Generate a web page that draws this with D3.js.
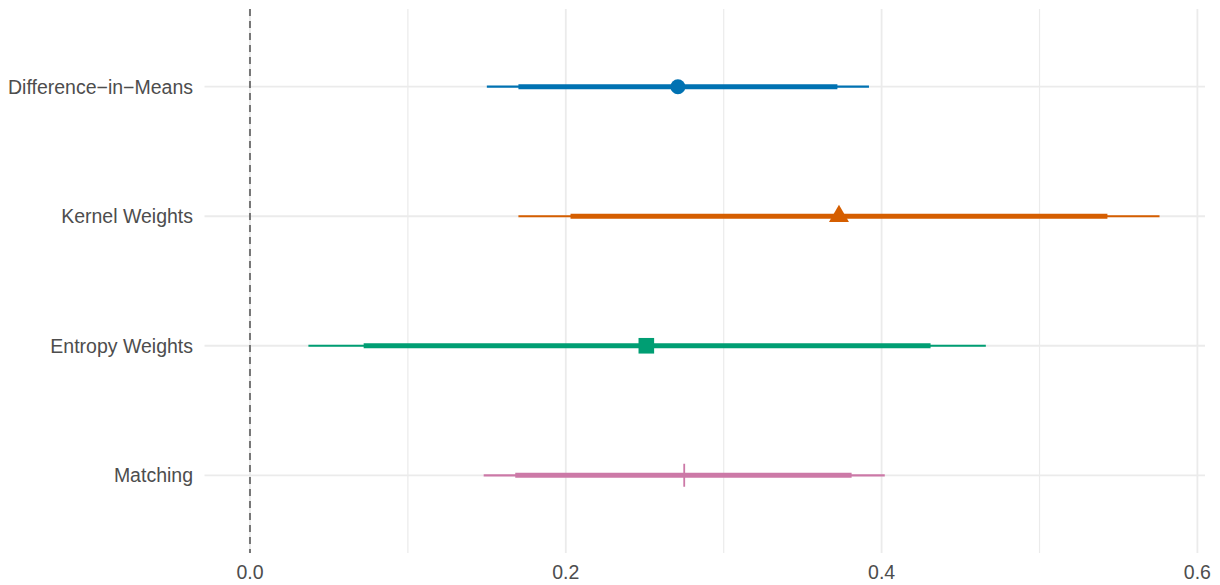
<!DOCTYPE html>
<html>
<head>
<meta charset="utf-8">
<script src="https://cdn.jsdelivr.net/npm/d3@7"></script>
<style>
  html, body { margin: 0; padding: 0; background: #ffffff; }
  svg { display: block; }
  text { font-family: "Liberation Sans", Arial, Helvetica, sans-serif; }
</style>
</head>
<body>
<script>
// Estimators and their point estimates with 90% (thick) and 95% (thin) intervals
const methods   = ["Difference\u2212in\u2212Means", "Kernel Weights", "Entropy Weights", "Matching"];
const estimate  = [0.271, 0.373, 0.251, 0.275];
const lo90      = [0.170, 0.203, 0.072, 0.168];
const hi90      = [0.372, 0.543, 0.431, 0.381];
const lo95      = [0.150, 0.170, 0.037, 0.148];
const hi95      = [0.392, 0.576, 0.466, 0.402];
const colors    = ["#0072B2", "#D55E00", "#009E73", "#CC79A7"];
const shapes    = ["circle", "triangle", "square", "plus"];
const xTicks    = [0.0, 0.2, 0.4, 0.6];
const xMinor    = [0.1, 0.3, 0.5];

const W = 1220, H = 585;
const panel = { left: 204.5, right: 1205, top: 9, bottom: 553 };

const rows = methods.map((m, i) => ({
  method: m, est: estimate[i], lo90: lo90[i], hi90: hi90[i],
  lo95: lo95[i], hi95: hi95[i], color: colors[i], shape: shapes[i]
}));

// x domain: data range (including the reference line at 0) expanded by 5%
const xmin = Math.min(0, d3.min(lo95)), xmax = d3.max(hi95);
const pad = (xmax - xmin) * 0.05;
const x = d3.scaleLinear().domain([xmin - pad, xmax + pad]).range([panel.left, panel.right]);
const y = d3.scalePoint().domain(methods).range([panel.top, panel.bottom]).padding(0.6);

const svg = d3.select("body").append("svg").attr("width", W).attr("height", H);

// grid
const grid = svg.append("g");
grid.selectAll(".minor").data(xMinor).join("line")
  .attr("x1", d => x(d)).attr("x2", d => x(d))
  .attr("y1", panel.top).attr("y2", panel.bottom)
  .attr("stroke", "#EBEBEB").attr("stroke-width", 1.2);
grid.selectAll(".majx").data(xTicks).join("line")
  .attr("x1", d => x(d)).attr("x2", d => x(d))
  .attr("y1", panel.top).attr("y2", panel.bottom)
  .attr("stroke", "#EBEBEB").attr("stroke-width", 1.8);
grid.selectAll(".majy").data(methods).join("line")
  .attr("x1", panel.left).attr("x2", panel.right)
  .attr("y1", d => y(d)).attr("y2", d => y(d))
  .attr("stroke", "#EBEBEB").attr("stroke-width", 1.8);

// reference line at zero
svg.append("line")
  .attr("x1", x(0)).attr("x2", x(0))
  .attr("y1", panel.top).attr("y2", panel.bottom)
  .attr("stroke", "#767676").attr("stroke-width", 2)
  .attr("stroke-dasharray", "7,5");

// interval ranges
const marks = svg.append("g");
marks.selectAll(".ci95").data(rows).join("line")
  .attr("x1", d => x(d.lo95)).attr("x2", d => x(d.hi95))
  .attr("y1", d => y(d.method)).attr("y2", d => y(d.method))
  .attr("stroke", d => d.color).attr("stroke-width", 2.2);
marks.selectAll(".ci90").data(rows).join("line")
  .attr("x1", d => x(d.lo90)).attr("x2", d => x(d.hi90))
  .attr("y1", d => y(d.method)).attr("y2", d => y(d.method))
  .attr("stroke", d => d.color).attr("stroke-width", 5);

// point estimates
rows.forEach(d => {
  const cx = x(d.est), cy = y(d.method);
  if (d.shape === "circle") {
    marks.append("circle").attr("cx", cx).attr("cy", cy).attr("r", 7.5).attr("fill", d.color);
  } else if (d.shape === "triangle") {
    const w = 20, h = 17.3;
    marks.append("path")
      .attr("d", `M${cx},${cy - h * 2 / 3} L${cx + w / 2},${cy + h / 3} L${cx - w / 2},${cy + h / 3} Z`)
      .attr("fill", d.color);
  } else if (d.shape === "square") {
    const s = 15.6;
    marks.append("rect").attr("x", cx - s / 2).attr("y", cy - s / 2)
      .attr("width", s).attr("height", s).attr("fill", d.color);
  } else {
    const r = 11.5;
    marks.append("path")
      .attr("d", `M${cx - r},${cy} L${cx + r},${cy} M${cx},${cy - r} L${cx},${cy + r}`)
      .attr("stroke", d.color).attr("stroke-width", 1.8).attr("fill", "none");
  }
});

// y labels
svg.append("g").selectAll("text").data(methods).join("text")
  .attr("x", 193).attr("y", d => y(d)).attr("dy", "0.36em")
  .attr("text-anchor", "end").attr("font-size", 19.5).attr("fill", "#4D4D4D")
  .text(d => d);

// x tick labels
svg.append("g").selectAll("text").data(xTicks).join("text")
  .attr("x", d => x(d)).attr("y", 579)
  .attr("text-anchor", "middle").attr("font-size", 19.5).attr("fill", "#4D4D4D")
  .text(d => d3.format(".1f")(d));
</script>
</body>
</html>
